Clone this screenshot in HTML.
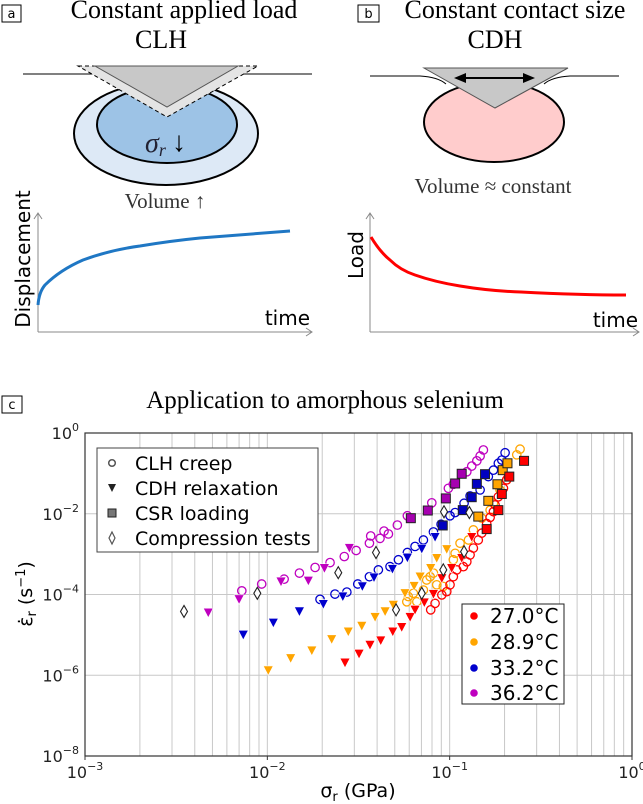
<!DOCTYPE html>
<html><head><meta charset="utf-8"><style>
body{margin:0;background:#fff;}
svg{display:block;}
.serif{font-family:"Liberation Serif","DejaVu Serif",serif;}
.sans{font-family:"DejaVu Sans","Liberation Sans",sans-serif;}
</style></head><body>
<svg id="fig" width="643" height="804" viewBox="0 0 643 804" xmlns="http://www.w3.org/2000/svg">
<!-- Panel a -->
<g>
<rect x="2" y="5" width="19" height="17" fill="none" stroke="#000" stroke-width="1"/>
<text x="11.5" y="18" font-size="13" text-anchor="middle" class="sans">a</text>
<text x="184" y="18" font-size="26" text-anchor="middle" class="serif">Constant applied load</text>
<text x="161" y="48" font-size="26" text-anchor="middle" class="serif">CLH</text>
<ellipse cx="166" cy="133.5" rx="92" ry="51.5" fill="#dde9f6" stroke="#000" stroke-width="2"/>
<ellipse cx="167" cy="124.5" rx="70" ry="38.5" fill="#9dc3e6" stroke="#000" stroke-width="2"/>
<line x1="23" y1="74" x2="312" y2="74" stroke="#000" stroke-width="1" stroke-dasharray="5,4"/>
<path d="M23 74 L95 74 Q110 75 118 83 M216 83 Q224 75 239 74 L312 74" fill="none" stroke="#000" stroke-width="1"/>
<polygon points="78,66 258,66 167,117" fill="#e4e4e4" stroke="#000" stroke-width="1" stroke-dasharray="4,3"/>
<polygon points="95,66 238,66 167,107" fill="#c8c8c8" stroke="#555" stroke-width="1"/>
<text x="145" y="152" font-size="28" font-style="italic" class="serif" fill="#223">σ<tspan font-size="18" dy="4">r</tspan></text>
<text x="172" y="151" font-size="28" class="serif">↓</text>
<text x="165" y="208" font-size="21" text-anchor="middle" class="serif" fill="#333">Volume ↑</text>
<path d="M38 332 V213 M34 219 L38 213 L42 219 M38 332 H312 M306 328 L312 332 L306 336" fill="none" stroke="#888" stroke-width="1"/>
<text transform="translate(30,259) rotate(-90)" font-size="20" text-anchor="middle" class="sans">Displacement</text>
<text x="310" y="325" font-size="20" text-anchor="end" class="sans">time</text>
<path d="M38 305 Q39 292 45 285 Q60 270 83 260 Q110 250 140 246 Q170 241 200 238 Q250 234 290 231" fill="none" stroke="#1f77c4" stroke-width="3"/>
</g>
<!-- Panel b -->
<g>
<rect x="358" y="5" width="21" height="17" fill="none" stroke="#000" stroke-width="1"/>
<text x="368.5" y="18" font-size="13" text-anchor="middle" class="sans">b</text>
<text x="515" y="18" font-size="26" text-anchor="middle" class="serif">Constant contact size</text>
<text x="495" y="48" font-size="26" text-anchor="middle" class="serif">CDH</text>
<ellipse cx="494" cy="122" rx="70" ry="40" fill="#ffcccc" stroke="#000" stroke-width="2"/>
<path d="M370 76 L420 76 Q438 77 446 84 M544 84 Q552 77 570 76 L619 76" fill="none" stroke="#000" stroke-width="1"/>
<polygon points="424,68 568,68 495,108" fill="#c8c8c8" stroke="#555" stroke-width="1"/>
<path d="M462 78 H527" stroke="#000" stroke-width="2"/>
<path d="M454 78 L466 73 L466 83 Z M535 78 L523 73 L523 83 Z" fill="#000"/>
<text x="493" y="193" font-size="21" text-anchor="middle" class="serif" fill="#333">Volume ≈ constant</text>
<path d="M370 332 V213 M366 219 L370 213 L374 219 M370 332 H639 M633 328 L639 332 L633 336" fill="none" stroke="#888" stroke-width="1"/>
<text transform="translate(363,255) rotate(-90)" font-size="20" text-anchor="middle" class="sans">Load</text>
<text x="638" y="327" font-size="20" text-anchor="end" class="sans">time</text>
<path d="M371 237 Q380 252 390 260 Q400 270 415 275 Q435 282 460 286 Q490 291 521 292 Q580 295 626 295" fill="none" stroke="#f00" stroke-width="3"/>
</g>
<!-- Panel c -->
<g>
<rect x="2" y="396" width="20" height="17" fill="none" stroke="#000" stroke-width="1"/>
<text x="12" y="409" font-size="13" text-anchor="middle" class="sans">c</text>
<text x="325" y="408" font-size="25" text-anchor="middle" class="serif">Application to amorphous selenium</text>
<g id="grid"></g>
<g id="ticks"></g>
<g id="marks"></g>
<rect x="85" y="433" width="547" height="323" fill="none" stroke="#333" stroke-width="1.2"/>
<text x="358" y="797" font-size="19" text-anchor="middle" class="sans">σ<tspan font-size="13" dy="4">r</tspan><tspan dy="-4"> (GPa)</tspan></text>
<text transform="translate(32,594) rotate(-90)" font-size="19" text-anchor="middle" class="sans">ε̇<tspan font-size="13" dy="4">r</tspan><tspan dy="-4"> (s</tspan><tspan font-size="13" dy="-7">−1</tspan><tspan dy="7">)</tspan></text>
<g>
<rect x="97" y="448" width="221" height="104" fill="#fff" stroke="#444" stroke-width="1"/>
<circle cx="112" cy="463" r="3.3" fill="none" stroke="#555" stroke-width="1.5"/>
<text x="135" y="470" font-size="19" class="sans">CLH creep</text>
<polygon points="108,484 116,484 112,492" fill="#222"/>
<text x="135" y="495" font-size="19" class="sans">CDH relaxation</text>
<rect x="108" y="509" width="8" height="8" fill="#777" stroke="#222"/>
<text x="135" y="520" font-size="19" class="sans">CSR loading</text>
<polygon points="112,532 115,538 112,544 109,538" fill="none" stroke="#555" stroke-width="1.2"/>
<text x="135" y="545" font-size="19" class="sans">Compression tests</text>
</g>
<g>
<rect x="462" y="604" width="102" height="100" fill="#fff" stroke="#222" stroke-width="1"/>
<circle cx="474" cy="616" r="3.8" fill="#f00"/>
<text x="490" y="623" font-size="20" class="sans">27.0°C</text>
<circle cx="474" cy="642" r="3.8" fill="#ffa500"/>
<text x="490" y="649" font-size="20" class="sans">28.9°C</text>
<circle cx="474" cy="668" r="3.8" fill="#0000cd"/>
<text x="490" y="675" font-size="20" class="sans">33.2°C</text>
<circle cx="474" cy="693" r="3.8" fill="#bf00bf"/>
<text x="490" y="700" font-size="20" class="sans">36.2°C</text>
</g>
</g>
</svg>
<script>
// Axis tick data (log10 exponents)
const xTickExps = [-3, -2, -1, 0];
const yTickExps = [0, -2, -4, -6, -8];
// Data stored as log10(sigma_r [GPa]) and log10(strain rate [1/s])
const clh27S = [-1.104,-1.080,-1.043,-1.016,-0.998,-0.980,-0.961,-0.925,-0.906,-0.888,-0.870,-0.843,-0.824,-0.797,-0.778,-0.760,-0.751,-0.733,-0.705,-0.687,-0.678];
const clh27R = [-4.38,-4.22,-4.01,-3.93,-3.76,-3.56,-3.39,-3.31,-3.19,-3.02,-2.85,-2.65,-2.48,-2.24,-2.09,-1.95,-1.78,-1.58,-1.37,-1.16,-1.08];
const cdh27S = [-1.574,-1.497,-1.437,-1.378,-1.312,-1.263,-1.217,-1.190,-1.139,-1.089,-1.043,-0.989,-0.934,-0.879];
const cdh27R = [-5.69,-5.47,-5.25,-5.14,-4.92,-4.81,-4.56,-4.38,-4.20,-3.99,-3.60,-3.35,-3.10,-2.58];
const csr27S = [-0.797,-0.733,-0.714,-0.673,-0.592];
const csr27R = [-2.38,-1.91,-1.51,-1.08,-0.69];
const clh29S = [-1.235,-1.227,-1.199,-1.180,-1.144,-1.126,-1.107,-1.089,-1.071,-1.035,-0.980,-0.970,-0.943,-0.897,-0.870,-0.824,-0.778,-0.760,-0.724,-0.687,-0.632,-0.614];
const clh29R = [-4.18,-4.05,-3.97,-4.18,-3.89,-3.64,-3.56,-3.47,-3.76,-3.80,-3.14,-2.98,-2.73,-2.65,-2.40,-2.11,-1.91,-1.74,-1.41,-1.16,-0.54,-0.40];
const cdh29S = [-1.995,-1.872,-1.756,-1.647,-1.556,-1.482,-1.409,-1.354,-1.309,-1.245,-1.195,-1.162,-1.104,-1.071,-1.016];
const cdh29R = [-5.88,-5.58,-5.39,-5.11,-4.92,-4.78,-4.56,-4.42,-4.26,-3.97,-3.79,-3.56,-3.35,-3.10,-2.88];
const csr29S = [-0.843,-0.788,-0.738,-0.709,-0.683];
const csr29R = [-2.07,-1.68,-1.27,-0.92,-0.75];
const clh33S = [-1.711,-1.629,-1.564,-1.504,-1.440,-1.391,-1.327,-1.281,-1.232,-1.190,-1.144,-1.089,-1.047,-0.998,-0.970,-0.921,-0.888,-0.833,-0.788,-0.760,-0.733,-0.714,-0.696];
const clh33R = [-4.12,-3.99,-3.94,-3.74,-3.56,-3.39,-3.31,-3.14,-2.96,-2.81,-2.65,-2.45,-2.26,-2.05,-1.97,-1.74,-1.56,-1.41,-1.08,-0.92,-0.75,-0.67,-0.49];
const cdh33S = [-2.132,-1.967,-1.824,-1.693,-1.586,-1.479,-1.415,-1.314,-1.232,-1.153,-1.080];
const cdh33R = [-5.00,-4.70,-4.42,-4.24,-4.05,-3.80,-3.58,-3.37,-3.09,-2.87,-2.58];
const csr33S = [-1.038,-0.928,-0.879,-0.851,-0.806];
const csr33R = [-2.29,-1.91,-1.59,-1.26,-1.02];
const clh36S = [-2.140,-2.031,-1.908,-1.824,-1.738,-1.656,-1.578,-1.513,-1.440,-1.433,-1.382,-1.360,-1.336,-1.287,-1.232,-1.098,-1.007,-0.980,-0.906,-0.879,-0.851,-0.833,-0.815];
const clh36R = [-3.91,-3.74,-3.62,-3.47,-3.33,-3.21,-3.06,-2.91,-2.73,-2.55,-2.61,-2.43,-2.50,-2.28,-2.05,-1.73,-1.37,-1.27,-0.96,-0.82,-0.69,-0.57,-0.42];
const cdh36S = [-2.324,-2.155,-1.925,-1.775,-1.687,-1.550];
const cdh36R = [-4.45,-4.12,-3.68,-3.66,-3.35,-2.85];
const csr36S = [-1.213,-1.120,-1.021,-0.970,-0.934];
const csr36R = [-2.11,-1.92,-1.62,-1.25,-1.01];
const compS = [-2.457,-2.055,-1.611,-1.404,-1.294,-1.153,-1.035,-0.921,-1.031,-0.892];
const compR = [-4.42,-3.97,-3.46,-2.96,-4.38,-3.97,-3.39,-2.94,-1.95,-1.97];

const X0 = 85, X1 = 632, Y0 = 433, Y1 = 756;
function xScale(e){ return X0 + (e - (-3)) / 3 * (X1 - X0); }
function yScale(e){ return Y0 + (0 - e) / 8 * (Y1 - Y0); }
const NS = 'http://www.w3.org/2000/svg';
function mk(tag, attrs, parent){
  const el = document.createElementNS(NS, tag);
  for (const k in attrs) el.setAttribute(k, attrs[k]);
  parent.appendChild(el);
  return el;
}
const grid = document.getElementById('grid');
const ticks = document.getElementById('ticks');
const marks = document.getElementById('marks');
for (let d = -3; d < 0; d++) {
  for (let m = 1; m <= 9; m++) {
    const x = xScale(d + Math.log10(m));
    const ln = mk('line', {x1:x, x2:x, y1:Y0, y2:Y1, stroke:'#c8c8c8', 'stroke-width':1}, grid);
    
    
  }
}
yTickExps.forEach(e => {
  const y = yScale(e);
  const ln = mk('line', {x1:X0, x2:X1, y1:y, y2:y, stroke:'#c8c8c8', 'stroke-width':1}, grid);
  
  
  const t = mk('text', {x:X0-6, y:y+6, 'font-size':16, 'text-anchor':'end', class:'sans', fill:'#222'}, ticks);
  
  
  t.innerHTML = '10<tspan font-size="11" dy="-8">' + (e < 0 ? '−' + (-e) : e) + '</tspan>';
});
xTickExps.forEach(e => {
  const x = xScale(e);
  const tk = mk('line', {x1:x, x2:x, y1:Y1, y2:Y1+4, stroke:'#333'}, ticks);
  
  
  const t = mk('text', {x:x, y:Y1+22, 'font-size':16, 'text-anchor':'middle', class:'sans', fill:'#222'}, ticks);
  
  
  t.innerHTML = '10<tspan font-size="11" dy="-8">' + (e < 0 ? '−' + (-e) : e) + '</tspan>';
});
function circles(S, R, color, name){
  S.forEach((s, i) => {
    const c = mk('circle', {cx:xScale(s), cy:yScale(R[i]), r:4.2, fill:'none', stroke:color, 'stroke-width':1.3}, marks);
    
    
  });
}
function tris(S, R, color, name){
  S.forEach((s, i) => {
    const x = xScale(s), y = yScale(R[i]);
    const p = mk('polygon', {points:(x-5)+','+(y-4.5)+' '+(x+5)+','+(y-4.5)+' '+x+','+(y+5), fill:color, stroke:'#fff', 'stroke-width':0.6}, marks);
    
    
  });
}
function squares(S, R, color, name){
  S.forEach((s, i) => {
    const x = xScale(s), y = yScale(R[i]);
    const p = mk('rect', {x:x-4.5, y:y-4.5, width:9, height:9, fill:color, stroke:'#222', 'stroke-width':1}, marks);
    
    
  });
}
function diamonds(S, R, name){
  S.forEach((s, i) => {
    const x = xScale(s), y = yScale(R[i]);
    const p = mk('polygon', {points:x+','+(y-6)+' '+(x+3.5)+','+y+' '+x+','+(y+6)+' '+(x-3.5)+','+y, fill:'#fff', stroke:'#222', 'stroke-width':1.1}, marks);
    
    
  });
}
const RED='#ff0000', ORG='#ffa500', BLU='#0000cd', PUR='#bf00bf';
circles(clh36S, clh36R, PUR, 'clh-36c-point');
tris(cdh36S, cdh36R, PUR, 'cdh-36c-point');
circles(clh33S, clh33R, BLU, 'clh-33c-point');
tris(cdh33S, cdh33R, BLU, 'cdh-33c-point');
circles(clh29S, clh29R, ORG, 'clh-29c-point');
tris(cdh29S, cdh29R, ORG, 'cdh-29c-point');
circles(clh27S, clh27R, RED, 'clh-27c-point');
tris(cdh27S, cdh27R, RED, 'cdh-27c-point');
squares(csr36S, csr36R, '#a600b0', 'csr-36c-point');
squares(csr33S, csr33R, '#0000c0', 'csr-33c-point');
squares(csr29S, csr29R, ORG, 'csr-29c-point');
squares(csr27S, csr27R, RED, 'csr-27c-point');
diamonds(compS, compR, 'compression-test-point');
</script>
</body></html>
